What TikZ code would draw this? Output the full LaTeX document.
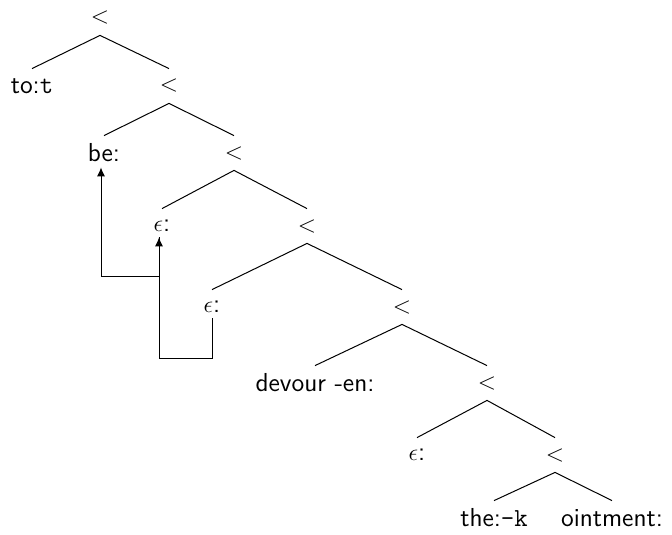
\documentclass[tikz,border=0pt]{standalone}
\usepackage{amsmath,amssymb}
\usepackage{tikz}
\usetikzlibrary{arrows.meta,positioning,calc}

\begin{document}
\begin{tikzpicture}[
    x=0.5pt, y=-0.5pt,
    word/.style={inner sep=0pt, minimum height=17pt, font=\sffamily\fontsize{13}{15}\selectfont},
    edge/.style={line width=0.5pt},
    move/.style={-{Latex[length=4.5pt,width=4pt]}, line width=0.5pt}
]
\useasboundingbox (0,0) rectangle (672,534);

\node[word] (lt1) at (100,18) {$<$};
\node[word] (tot) at (32,86) {to:\texttt{t}};
\node[word] (lt2) at (169,86) {$<$};
\node[word] (be) at (104,153) {be:};
\node[word] (lt3) at (234,153) {$<$};
\node[word] (eps1) at (162,226) {$\epsilon$:};
\node[word] (lt4) at (307,226) {$<$};
\node[word] (eps2) at (212,307) {$\epsilon$:};
\node[word] (lt5) at (402,307) {$<$};
\node[word] (devour) at (315,383) {devour -en:};
\node[word] (lt6) at (487,383) {$<$};
\node[word] (eps3) at (417,455) {$\epsilon$:};
\node[word] (lt7) at (555,455) {$<$};
\node[word] (the) at (494,518) {the:\texttt{-k}};
\node[word] (oint) at (612,518) {ointment:};

% tree
\draw[edge] (lt1.south) -- (tot.north);
\draw[edge] (lt1.south) -- (lt2.north);
\draw[edge] (lt2.south) -- (be.north);
\draw[edge] (lt2.south) -- (lt3.north);
\draw[edge] (lt3.south) -- (eps1.north);
\draw[edge] (lt3.south) -- (lt4.north);
\draw[edge] (lt4.south) -- (eps2.north);
\draw[edge] (lt4.south) -- (lt5.north);
\draw[edge] (lt5.south) -- (devour.north);
\draw[edge] (lt5.south) -- (lt6.north);
\draw[edge] (lt6.south) -- (eps3.north);
\draw[edge] (lt6.south) -- (lt7.north);
\draw[edge] (lt7.south) -- (the.north);
\draw[edge] (lt7.south) -- (oint.north);

% movement
\draw[move] ([yshift=3pt]eps2.south) -- ++(0,40) -| ([xshift=-1.5pt,yshift=3pt]eps1.south);
\draw[move] ([xshift=-1.5pt,yshift=3pt]eps1.south) -- ++(0,39) -| ([xshift=-1.5pt,yshift=1.5pt]be.south);
\end{tikzpicture}
\end{document}
